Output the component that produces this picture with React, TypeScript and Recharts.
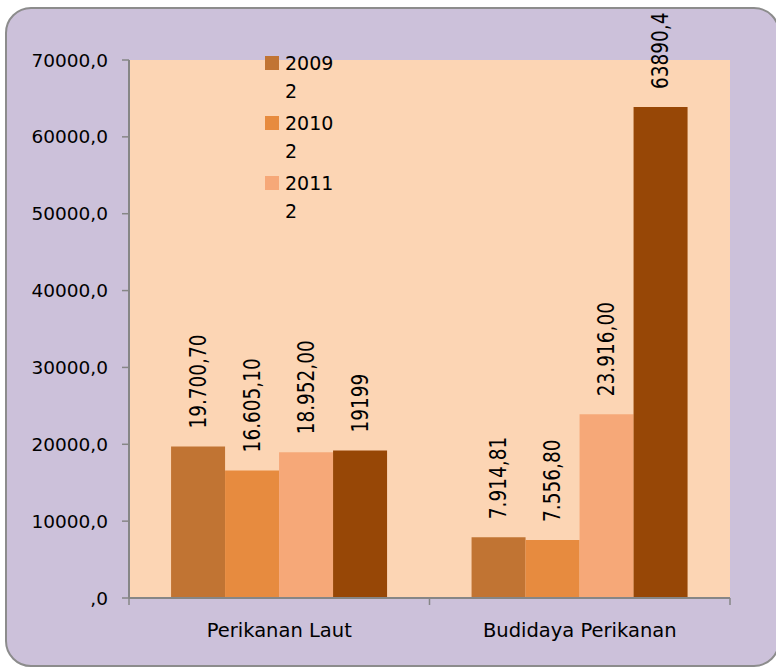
import * as React from "react";
import {
  Bar,
  BarChart,
  CartesianGrid,
  LabelList,
  Legend,
  XAxis,
  YAxis,
} from "recharts";

const categories = ["Perikanan Laut", "Budidaya Perikanan"];
const seriesNames = ["2009", "2010", "2011", "2012"];
const seriesColors = ["#c17433", "#e78b3f", "#f6a878", "#974706"];
const values2009 = [19700.7, 7914.81];
const values2010 = [16605.1, 7556.8];
const values2011 = [18952.0, 23916.0];
const values2012 = [19199, 63890.4];
const labels2009 = ["19.700,70", "7.914,81"];
const labels2010 = ["16.605,10", "7.556,80"];
const labels2011 = ["18.952,00", "23.916,00"];
const labels2012 = ["19199", "63890,4"];
const yTicks = [0, 10000, 20000, 30000, 40000, 50000, 60000, 70000];
const legendSubLine = "2";

const seriesValues = [values2009, values2010, values2011, values2012];
const seriesLabels = [labels2009, labels2010, labels2011, labels2012];

const FONT = "'DejaVu Sans', sans-serif";
const AXIS_GREY = "#868686";

const data = categories.map((name, i) => {
  const row: Record<string, string | number> = { name, idx: i };
  seriesNames.forEach((s, k) => {
    row[`v${k}`] = seriesValues[k][i];
    row[`l${k}`] = seriesLabels[k][i];
  });
  return row;
});

function formatTick(v: number): string {
  return v === 0 ? ",0" : `${v},0`;
}

// category label plus tick marks on the category boundaries (Excel style)
function CategoryTick(props: any) {
  const { x, y, payload, index, visibleTicksCount } = props;
  const half = Number(payload?.offset ?? 0);
  const last = index === visibleTicksCount - 1;
  return (
    <g>
      <line x1={x - half} x2={x - half} y1={y} y2={y + 7} stroke={AXIS_GREY} strokeWidth={1.5} />
      {last && (
        <line x1={x + half} x2={x + half} y1={y} y2={y + 7} stroke={AXIS_GREY} strokeWidth={1.5} />
      )}
      <text
        x={x}
        y={y + 32}
        textAnchor="middle"
        dominantBaseline="central"
        fontFamily={FONT}
        fontSize={19.5}
        fill="#000"
      >
        {payload.value}
      </text>
    </g>
  );
}

// vertical value label, reading upward from just above the bar
function RotatedLabel(props: any) {
  const { x, y, width, value } = props;
  const cx = Number(x) + Number(width) / 2;
  const cy = Number(y) - 18;
  return (
    <text
      x={0}
      y={0}
      transform={`translate(${cx}, ${cy}) scale(1.2, 1) rotate(-90)`}
      textAnchor="start"
      dominantBaseline="central"
      fontFamily={FONT}
      fontSize={18.5}
      fill="#000"
    >
      {value}
    </text>
  );
}

function LegendBox({ payload }: { payload?: any[] }) {
  const items = (payload ?? []).filter((p) => p.type !== "none");
  return (
    <div style={{ fontFamily: FONT, fontSize: 19, color: "#000", textAlign: "left" }}>
      {items.map((p) => (
        <div key={p.value} style={{ position: "relative", height: 60 }}>
          <span
            style={{
              position: "absolute",
              left: 0,
              top: 4,
              width: 14,
              height: 14,
              background: p.color,
            }}
          />
          <div style={{ position: "absolute", left: 20, top: 0 }}>
            <div style={{ height: 28, lineHeight: "22px" }}>{p.value}</div>
            <div style={{ height: 28, lineHeight: "22px" }}>{legendSubLine}</div>
          </div>
        </div>
      ))}
    </div>
  );
}

export default function App() {
  return (
    <div
      style={{
        position: "absolute",
        left: 0,
        top: 0,
        width: 776,
        height: 667,
        overflow: "hidden",
        background: "#ffffff",
      }}
    >
      <div
        style={{
          position: "absolute",
          left: 5,
          top: 7,
          width: 775,
          height: 660,
          boxSizing: "border-box",
          border: "2px solid #8c8c8c",
          borderRadius: 26,
          background: "#ccc1da",
        }}
      />
      <div style={{ position: "absolute", left: 0, top: 0 }}>
        <BarChart
          width={776}
          height={667}
          data={data}
          margin={{ top: 60, right: 46, bottom: 0, left: 0 }}
          barCategoryGap="14%"
          barGap={0}
        >
          <CartesianGrid
            fill="#fcd5b4"
            horizontal={false}
            vertical={false}
            stroke="none"
          />
          <XAxis
            dataKey="name"
            height={69}
            axisLine={{ stroke: AXIS_GREY, strokeWidth: 2 }}
            tickLine={false}
            tickSize={0}
            tickMargin={0}
            tick={<CategoryTick />}
          />
          <YAxis
            width={129}
            domain={[0, 70000]}
            ticks={yTicks}
            interval={0}
            tickFormatter={formatTick}
            tick={{ fill: "#000", fontSize: 18.5, fontFamily: FONT }}
            tickSize={7}
            tickMargin={14}
            axisLine={{ stroke: AXIS_GREY, strokeWidth: 2 }}
            tickLine={{ stroke: AXIS_GREY, strokeWidth: 1.5 }}
          />
          <Legend
            verticalAlign="middle"
            align="center"
            layout="vertical"
            wrapperStyle={{ left: 265, top: 52, width: 80 }}
            content={<LegendBox />}
          />
          {seriesNames.map((s, k) => (
            <Bar
              key={s}
              dataKey={`v${k}`}
              name={s}
              fill={seriesColors[k]}
              legendType={k === 3 ? "none" : "square"}
              isAnimationActive={false}
            >
              <LabelList dataKey={`l${k}`} content={<RotatedLabel />} />
            </Bar>
          ))}
        </BarChart>
      </div>
    </div>
  );
}
